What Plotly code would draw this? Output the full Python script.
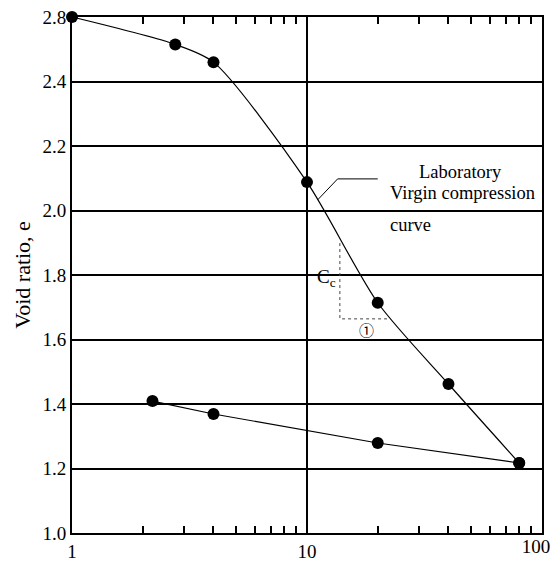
import math
import plotly.graph_objects as go

# Loading (virgin compression) data: pressure (log scale) and void ratio (axis position)
load_p = [1, 2.75, 4, 10, 20, 40, 80]
load_e = [2.60, 2.515, 2.46, 2.088, 1.714, 1.462, 1.217]

# Unloading (rebound) data
unload_p = [2.2, 4, 20, 80]
unload_e = [1.409, 1.369, 1.279, 1.217]

# Y tick values and their printed labels (the top label reads 2.8 in the original)
y_ticks = [1.0, 1.2, 1.4, 1.6, 1.8, 2.0, 2.2, 2.4, 2.6]
y_labels = ["1.0", "1.2", "1.4", "1.6", "1.8", "2.0", "2.2", "2.4", "2.8"]

x_major = [1, 10, 100]
x_major_labels = ["1", "10", ""]
x_end = [100]
x_end_labels = ["100"]
x_minor = [2, 3, 4, 5, 6, 7, 8, 9, 20, 30, 40, 50, 60, 70, 80, 90]

# Leader line for the curve label and the Cc slope triangle
leader_p = [11.1, 13.5, 20.0]
leader_e = [2.033, 2.098, 2.098]
cc_p = [13.8, 13.8, 21.9]
cc_e = [1.899, 1.664, 1.664]

FONT = "Liberation Serif"
XR = [-0.0001, 2.0001]

fig = go.Figure()
fig.add_trace(go.Scatter(x=load_p, y=load_e, mode="lines+markers", cliponaxis=False,
                         line=dict(color="black", width=1.2, shape="spline", smoothing=0.75),
                         marker=dict(color="black", size=12), showlegend=False))
fig.add_trace(go.Scatter(x=unload_p, y=unload_e, mode="lines+markers", cliponaxis=False,
                         line=dict(color="black", width=1.2),
                         marker=dict(color="black", size=12), showlegend=False))
fig.add_trace(go.Scatter(x=leader_p, y=leader_e, mode="lines",
                         line=dict(color="black", width=1), showlegend=False))
fig.add_trace(go.Scatter(x=cc_p, y=cc_e, mode="lines",
                         line=dict(color="#444", width=1, dash="dot"), showlegend=False))
# invisible traces anchoring the extra overlay axes
for ax in ("x2", "x3"):
    fig.add_trace(go.Scatter(x=[1, 100], y=[1.0, 1.0], xaxis=ax, mode="markers",
                             marker=dict(opacity=0), showlegend=False, hoverinfo="skip"))


def lg(v):
    return math.log10(v)


txt = dict(family=FONT, size=18.5, color="black")
fig.add_annotation(x=lg(44.8), y=2.119, text="Laboratory", showarrow=False,
                   xanchor="center", yanchor="middle", font=txt)
fig.add_annotation(x=lg(22.1), y=2.054, text="Virgin compression", showarrow=False,
                   xanchor="left", yanchor="middle", font=txt)
fig.add_annotation(x=lg(22.1), y=1.955, text="curve", showarrow=False,
                   xanchor="left", yanchor="middle", font=txt)
fig.add_annotation(x=lg(13.6), y=1.79, text="C<sub>c</sub>", showarrow=False,
                   xanchor="right", yanchor="middle", font=dict(family=FONT, size=19, color="black"))
fig.add_annotation(x=lg(18.0), y=1.63, text="①", showarrow=False,
                   xanchor="center", yanchor="middle",
                   font=dict(family="Noto Sans CJK JP", size=15, color="black"))

tickfont = dict(family=FONT, size=19, color="black")
fig.update_layout(
    width=551, height=563,
    margin=dict(l=72, r=9, t=17, b=30),
    plot_bgcolor="white", paper_bgcolor="white",
    font=dict(family=FONT, size=18, color="black"),
    xaxis=dict(type="log", range=XR, tickmode="array", tickvals=x_major, ticktext=x_major_labels,
               ticks="", showgrid=True, gridcolor="black", gridwidth=2, automargin=False,
               showline=True, linecolor="black", linewidth=2, mirror=True,
               zeroline=False, tickfont=tickfont,
               minor=dict(tickmode="array", tickvals=x_minor, ticks="inside", ticklen=7,
                          tickwidth=1.5, tickcolor="black", showgrid=False)),
    xaxis2=dict(type="log", range=XR, overlaying="x", side="top", automargin=False,
                tickmode="array", tickvals=x_minor, ticks="inside", ticklen=7, tickwidth=1.5,
                tickcolor="black", showticklabels=False, showgrid=False,
                showline=False, zeroline=False),
    xaxis3=dict(type="log", range=XR, overlaying="x", side="bottom", automargin=False,
                tickmode="array", tickvals=x_end, ticktext=x_end_labels, ticks="",
                ticklabelshift=-6, ticklabeloverflow="allow", tickfont=tickfont,
                showgrid=False, showline=False, zeroline=False),
    yaxis=dict(range=[1.0, 2.6], tickmode="array", tickvals=y_ticks, ticktext=y_labels,
               ticks="", showgrid=True, gridcolor="black", gridwidth=2, automargin=False,
               showline=True, linecolor="black", linewidth=2, mirror=True,
               zeroline=False, tickfont=tickfont,
               title=dict(text="Void ratio, e", font=dict(family=FONT, size=22, color="black"),
                          standoff=6)),
)

fig.write_html("out.html")
